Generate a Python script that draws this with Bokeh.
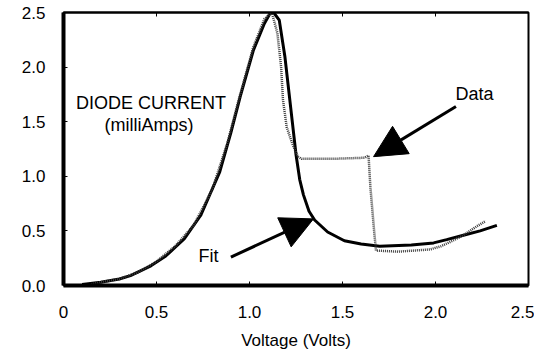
from bokeh.plotting import figure
from bokeh.models import (Range1d, FixedTicker, CustomJSTickFormatter, LinearAxis,
                          Label, Arrow, NormalHead)
from bokeh.embed import file_html
from bokeh.resources import INLINE

# ---- data ----
fit_v = [0.10, 0.20, 0.30, 0.36, 0.47, 0.55, 0.65, 0.74, 0.84, 0.90, 0.95, 1.02, 1.08, 1.11,
         1.13, 1.16, 1.19, 1.21, 1.23, 1.25, 1.27, 1.29, 1.32, 1.35, 1.42, 1.51, 1.60, 1.70,
         1.87, 1.99, 2.06, 2.15, 2.24, 2.33]
fit_i = [0.01, 0.03, 0.06, 0.09, 0.18, 0.27, 0.43, 0.65, 1.04, 1.40, 1.73, 2.15, 2.40, 2.49,
         2.50, 2.43, 2.10, 1.80, 1.50, 1.20, 0.97, 0.83, 0.68, 0.60, 0.49, 0.41, 0.38, 0.36,
         0.37, 0.39, 0.42, 0.46, 0.50, 0.55]

data_v = [0.15, 0.20, 0.30, 0.40, 0.50, 0.60, 0.70, 0.80, 0.88, 0.95, 1.02, 1.08, 1.12,
          1.15, 1.17, 1.18, 1.20, 1.23, 1.26, 1.28, 1.45, 1.62, 1.64, 1.65, 1.67, 1.68,
          1.80, 1.97, 2.03, 2.08, 2.15, 2.22, 2.27]
data_i = [0.01, 0.03, 0.06, 0.12, 0.22, 0.36, 0.55, 0.88, 1.30, 1.75, 2.18, 2.44, 2.50,
          2.31, 2.00, 1.70, 1.45, 1.30, 1.18, 1.16, 1.16, 1.17, 1.19, 0.90, 0.50, 0.32,
          0.31, 0.33, 0.36, 0.40, 0.46, 0.54, 0.59]

x_ticks = [0, 0.5, 1.0, 1.5, 2.0, 2.5]
y_ticks = [0, 0.5, 1.0, 1.5, 2.0, 2.5]

FONT = "Liberation Sans"

p = figure(width=534, height=352, output_backend="svg", toolbar_location=None,
           x_range=Range1d(0, 2.5), y_range=Range1d(0, 2.5),
           min_border_left=63, min_border_right=6, min_border_top=12, min_border_bottom=65)
p.xgrid.visible = False
p.ygrid.visible = False
p.outline_line_color = "black"
p.outline_line_width = 2
p.background_fill_color = "white"
p.border_fill_color = "white"

# curves
p.line(fit_v, fit_i, line_color="black", line_width=3)
p.line(data_v, data_i, line_color="#3a3a3a", line_width=2.5, line_dash="1 1")

# axes
xa = p.xaxis[0]
xa.ticker = FixedTicker(ticks=x_ticks)
xa.formatter = CustomJSTickFormatter(code="return tick == 0 ? '0' : tick.toFixed(1);")
xa.axis_line_width = 4
xa.axis_line_color = "black"
xa.major_tick_in = 4
xa.major_tick_out = 0
xa.major_tick_line_color = "black"
xa.minor_tick_line_color = None
xa.major_label_text_font = FONT
xa.major_label_text_font_size = "17px"
xa.major_label_text_color = "black"
xa.major_label_standoff = 20
xa.axis_label = "Voltage (Volts)"
xa.axis_label_text_font = FONT
xa.axis_label_text_font_size = "17px"
xa.axis_label_text_font_style = "normal"
xa.axis_label_text_color = "black"
xa.axis_label_standoff = 10

ya = p.yaxis[0]
ya.ticker = FixedTicker(ticks=y_ticks)
ya.formatter = CustomJSTickFormatter(code="return tick.toFixed(1);")
ya.axis_line_width = 4
ya.axis_line_color = "black"
ya.major_tick_in = 4
ya.major_tick_out = 0
ya.major_tick_line_color = "black"
ya.minor_tick_line_color = None
ya.major_label_text_font = FONT
ya.major_label_text_font_size = "17px"
ya.major_label_text_color = "black"
ya.major_label_standoff = 18

top = LinearAxis(ticker=FixedTicker(ticks=x_ticks),
                 formatter=CustomJSTickFormatter(code="return '';"),
                 major_tick_in=4, major_tick_out=0, minor_tick_line_color=None,
                 axis_line_width=2, axis_line_color="black",
                 major_tick_line_color="black", major_label_standoff=0)
p.add_layout(top, "above")

# in-plot texts
for x, y, t in [(0.47, 1.67, "DIODE CURRENT"), (0.46, 1.47, "(milliAmps)"),
                (2.21, 1.75, "Data"), (0.78, 0.27, "Fit")]:
    p.add_layout(Label(x=x, y=y, text=t, text_font=FONT, text_color="black",
                       text_font_size="18px", text_align="center", text_baseline="middle"))

# arrows
p.add_layout(Arrow(x_start=2.11, y_start=1.64, x_end=1.667, y_end=1.18,
                   line_width=3, line_color="black",
                   end=NormalHead(size=32, fill_color="black", line_color="black")))
p.add_layout(Arrow(x_start=0.90, y_start=0.26, x_end=1.344, y_end=0.61,
                   line_width=3, line_color="black",
                   end=NormalHead(size=32, fill_color="black", line_color="black")))

open("out.html", "w").write(file_html(p, INLINE))
